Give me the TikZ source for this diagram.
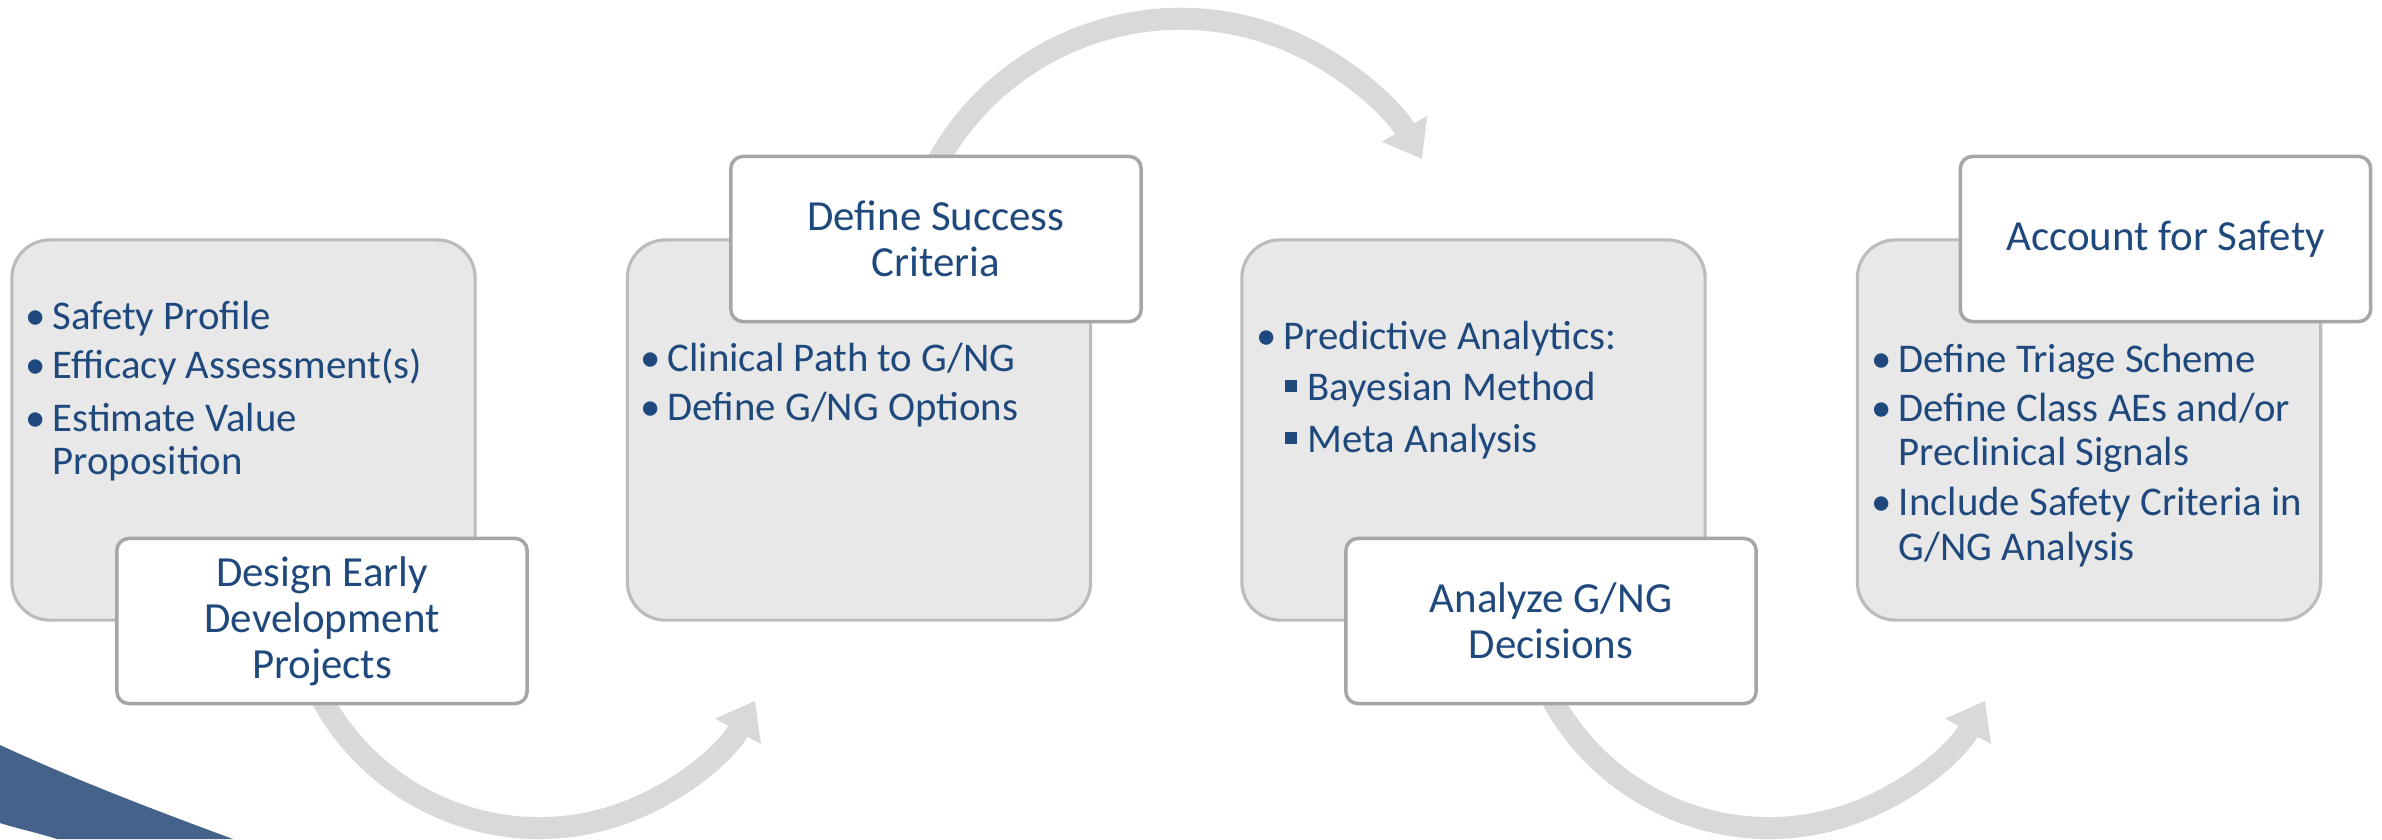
\documentclass[tikz,border=0pt]{standalone}
\usepackage{fontspec}
\setmainfont{Carlito}
\usetikzlibrary{arrows.meta}

\definecolor{textblue}{RGB}{31,73,125}
\definecolor{cardgray}{RGB}{232,232,232}
\definecolor{cardline}{RGB}{188,188,188}
\definecolor{boxline}{RGB}{166,166,166}
\definecolor{flowgray}{RGB}{217,217,217}
\definecolor{swooshblue}{RGB}{68,98,138}

\newcommand\bpt{\makebox[0.27cm][l]{\textbullet}}
\newcommand\sqpt{\makebox[0.23cm][l]{\rule[2.2pt]{3.4pt}{3.4pt}}}

\begin{document}
\begin{tikzpicture}[x=0.01cm, y=-0.01cm]
		\tikzstyle{cardbox}=[draw=cardline, fill=cardgray, line width=0.9pt, rounded corners=0.38cm, minimum width=4.63cm, minimum height=3.8cm, inner sep=0pt]
		\tikzstyle{titlebox}=[draw=boxline, fill=white, line width=1pt, rounded corners=0.12cm, minimum width=4.1cm, minimum height=1.65cm, inner sep=0pt, align=center, text=textblue, font=\fontsize{12.2}{13.1}\selectfont]
		\tikzstyle{flow}=[draw=flowgray, line width=0.22cm, -{Triangle[width=0.5cm,length=0.35cm]}]
		\tikzstyle{bodytext}=[anchor=base west, inner sep=0pt, text=textblue, font=\fontsize{11.6}{13.6}\selectfont]

		\newcommand\Ycard{430}
		\newcommand\Ylow{621}
		\newcommand\Yhigh{239}

		\useasboundingbox (0,0) rectangle (2382,839);

		% Swoosh
		\fill[swooshblue] (0,745) .. controls (80,782) and (160,812) .. (233,839) -- (57,839) .. controls (35,832) and (15,828) .. (0,823) -- cycle;

		% Arrows
		\coordinate (hub1) at (539,581);
		\coordinate (hub2) at (1180.5,296.8);
		\coordinate (hub3) at (1769,581);
		\draw[flow] (hub1) ++(160:247) arc[start angle=160, end angle=29, radius=247];
		\draw[flow] (hub2) ++(205:278) arc[start angle=205, end angle=330.3, radius=278];
		\draw[flow] (hub3) ++(160:247) arc[start angle=160, end angle=29, radius=247];

		% Cards
		\node[cardbox] (card1) at (243.5,\Ycard) {};
		\node[cardbox] (card2) at (859,\Ycard) {};
		\node[cardbox] (card3) at (1473.5,\Ycard) {};
		\node[cardbox] (card4) at (2089,\Ycard) {};

		% Titles
		\node[titlebox] (title1) at (322,\Ylow) {Design Early\\Development\\Projects};
		\node[titlebox] (title2) at (936,\Yhigh) {Define Success\\Criteria};
		\node[titlebox] (title3) at (1551,\Ylow) {Analyze G/NG\\Decisions};
		\node[titlebox] (title4) at (2165.5,\Yhigh) {Account for Safety};

		% Card 1
		\node[bodytext] (s1a) at (25,329) {\bpt Safety Profile};
		\node[bodytext] (s1b) at (25,378) {\bpt Efficacy Assessment(s)};
		\node[bodytext] (s1c) at (25,431) {\bpt Estimate Value};
		\node[bodytext] (s1d) at (52,474) {Proposition};

		% Card 2
		\node[bodytext] (s2a) at (640,371) {\bpt Clinical Path to G/NG};
		\node[bodytext] (s2b) at (640,420) {\bpt Define G/NG Options};

		% Card 3
		\node[bodytext] (s3a) at (1256,349) {\bpt Predictive Analytics:};
		\node[bodytext] (s3b) at (1284,400) {\sqpt Bayesian Method};
		\node[bodytext] (s3c) at (1284,452) {\sqpt Meta Analysis};

		% Card 4
		\node[bodytext] (s4a) at (1871,372) {\bpt Define Triage Scheme};
		\node[bodytext] (s4b) at (1871,421) {\bpt Define Class AEs and/or};
		\node[bodytext] (s4c) at (1898,465) {Preclinical Signals};
		\node[bodytext] (s4d) at (1871,515) {\bpt Include Safety Criteria in};
		\node[bodytext] (s4e) at (1898,560) {G/NG Analysis};
\end{tikzpicture}
\end{document}
